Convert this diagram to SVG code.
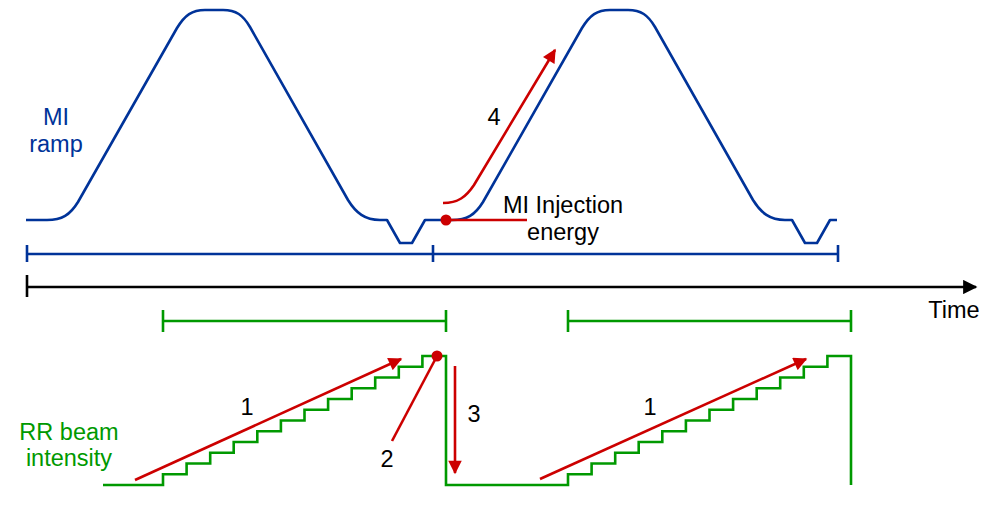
<svg xmlns="http://www.w3.org/2000/svg" width="997" height="505" viewBox="0 0 997 505">
<style>
.blue{fill:none;stroke:#003399;stroke-width:2.6;stroke-linejoin:round}
.green{fill:none;stroke:#009900;stroke-width:2.6}
.red{fill:none;stroke:#CC0000;stroke-width:2.6}
.blk{fill:none;stroke:#000;stroke-width:2.6}
text{font-family:"Liberation Sans",Arial,sans-serif;font-size:23.5px}
.tb{fill:#003399}.tg{fill:#009900}.tk{fill:#000}
</style>
<defs>
<marker id="ar" viewBox="0 0 10 10" refX="9" refY="5" markerWidth="6" markerHeight="5.2" markerUnits="strokeWidth" orient="auto"><path d="M0,0 L10,5 L0,10 Z" fill="#CC0000"/></marker>
<marker id="ak" viewBox="0 0 10 10" refX="9" refY="5" markerWidth="6" markerHeight="5.5" markerUnits="strokeWidth" orient="auto"><path d="M0,0 L10,5 L0,10 Z" fill="#000"/></marker>
</defs>
<g id="mi-ramp">
<path class="blue" d="M26,220 H47 C62,220 70,215 78,202 L177,28 C185,15 192,10 205,10 H223 C236,10 243,15 250,27 L348,200 C356,213 365,220 380,220 H387 L400,243 H412 L425,220 H452 C467,220 475,215 483,202 L582,28 C590,15 597,10 610,10 H628 C641,10 648,15 655,27 L753,200 C761,213 770,220 785,220 H792 L805,243 H817 L830,220 H837"/>
<text class="tb" x="56" y="125" text-anchor="middle">MI</text>
<text class="tb" x="56" y="152" text-anchor="middle">ramp</text>
</g>
<g id="mi-bracket">
<path class="blue" d="M27,254 H838 M27,245 V262 M433,245 V262 M838,245 V262"/>
</g>
<g id="time-axis">
<path class="blk" d="M27,275 V297"/>
<path class="blk" d="M27,287 H976" marker-end="url(#ak)"/>
<text class="tk" x="954" y="318" text-anchor="middle">Time</text>
</g>
<g id="rr-brackets">
<path class="green" d="M163,321 H446 M163,310 V332 M446,310 V332 M568,321 H851 M568,310 V332 M851,310 V332"/>
</g>
<g id="rr-beam">
<path class="green" d="M103,485 H163 V474.25 H186.6 V463.5 H210.2 V452.75 H233.7 V442 H257.3 V431.25 H280.9 V420.5 H304.5 V409.75 H328.1 V399 H351.7 V388.25 H375.2 V377.5 H398.8 V366.75 H422.4 V356 H446 V485 H568 V474.25 H591.6 V463.5 H615.2 V452.75 H638.7 V442 H662.3 V431.25 H685.9 V420.5 H709.5 V409.75 H733.1 V399 H756.7 V388.25 H780.2 V377.5 H803.8 V366.75 H827.4 V356 H851 V485"/>
<text class="tg" x="69" y="440" text-anchor="middle">RR beam</text>
<text class="tg" x="69" y="466" text-anchor="middle">intensity</text>
</g>
<g id="connectors">
<path class="red" d="M135,480 L401,359" marker-end="url(#ar)"/>
<path class="red" d="M540,479 L806,359" marker-end="url(#ar)"/>
<path class="red" d="M392,441 L437,356"/>
<circle cx="437" cy="356" r="5.5" fill="#CC0000"/>
<path class="red" d="M455,366 L455,473" marker-end="url(#ar)"/>
<path class="red" d="M443,203 C458,203 466,197 474,185 L555,50" marker-end="url(#ar)"/>
<path class="red" d="M446,220 H527"/>
<circle cx="446" cy="220" r="5.5" fill="#CC0000"/>
<text class="tk" x="247" y="415" text-anchor="middle">1</text>
<text class="tk" x="650" y="415" text-anchor="middle">1</text>
<text class="tk" x="387" y="467" text-anchor="middle">2</text>
<text class="tk" x="474" y="422" text-anchor="middle">3</text>
<text class="tk" x="494" y="125" text-anchor="middle">4</text>
<text class="tk" x="563" y="213" text-anchor="middle">MI Injection</text>
<text class="tk" x="563" y="240" text-anchor="middle">energy</text>
</g>
</svg>
